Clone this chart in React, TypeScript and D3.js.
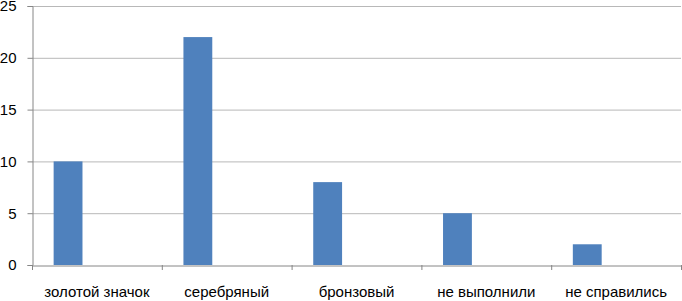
import * as d3 from 'd3';
import React, { useEffect, useRef } from 'react';

const categories = ['золотой значок', 'серебряный', 'бронзовый', 'не выполнили', 'не справились'];
const series = ['s1', 's2', 's3'];
const values = [10, 22, 8, 5, 2];
const yTicks = [0, 5, 10, 15, 20, 25];

function Chart() {
    const ref = useRef<SVGSVGElement>(null);

    useEffect(() => {
        const svg = d3.select(ref.current);
        svg.selectAll('*').remove();

        const left = 32, right = 681, top = 6, bottom = 265;

        const x0 = d3.scaleBand<string>().domain(categories).range([left, right]).padding(0);
        const x1 = d3.scaleBand<string>().domain(series).range([0, x0.bandwidth()])
            .paddingInner(0).paddingOuter(0.75);
        const y = d3.scaleLinear().domain([0, 25]).range([bottom, top]);

        const font = "'Liberation Sans Narrow', 'Liberation Sans', sans-serif";

        // gridlines
        svg.append('g')
            .selectAll('line')
            .data(yTicks.filter(d => d > 0))
            .enter().append('line')
            .attr('x1', left).attr('x2', right)
            .attr('y1', d => y(d) + 0.5).attr('y2', d => y(d) + 0.5)
            .attr('stroke', '#b8b8b8');

        // bars
        svg.append('g')
            .selectAll('rect')
            .data(values)
            .enter().append('rect')
            .attr('x', (d, i) => x0(categories[i])! + x1('s1')!)
            .attr('width', x1.bandwidth())
            .attr('y', d => y(d))
            .attr('height', d => y(0) - y(d))
            .attr('fill', '#4f81bd');

        // y axis
        const ya = svg.append('g')
            .attr('transform', `translate(${left + 0.5},0)`)
            .call(d3.axisLeft(y).tickValues(yTicks).tickSize(5).tickPadding(11));
        ya.select('.domain').attr('stroke', '#868686');
        ya.selectAll('.tick line').attr('stroke', '#868686');
        ya.selectAll('.tick text').attr('font-family', font).attr('font-size', 15).attr('fill', '#000');

        // x axis
        const xa = svg.append('g')
            .attr('transform', `translate(0,${bottom + 0.5})`)
            .call(d3.axisBottom(x0).tickSize(0).tickPadding(21));
        xa.select('.domain').attr('stroke', '#868686');
        xa.selectAll('.tick text').attr('font-family', font).attr('font-size', 15).attr('fill', '#000');

        // category boundary ticks
        svg.append('g')
            .selectAll('line')
            .data(categories.concat(['end']))
            .enter().append('line')
            .attr('x1', (d, i) => i < categories.length ? x0(d)! + 0.5 : right + 0.5)
            .attr('x2', (d, i) => i < categories.length ? x0(d)! + 0.5 : right + 0.5)
            .attr('y1', bottom)
            .attr('y2', bottom + 5)
            .attr('stroke', '#868686');
    }, []);

    return <svg ref={ref} width={682} height={301} style={{ display: 'block' }}></svg>;
}

export default function App() {
    return (
        <div style={{ position: 'absolute', left: 0, top: 0 }}>
            <Chart />
        </div>
    );
}
